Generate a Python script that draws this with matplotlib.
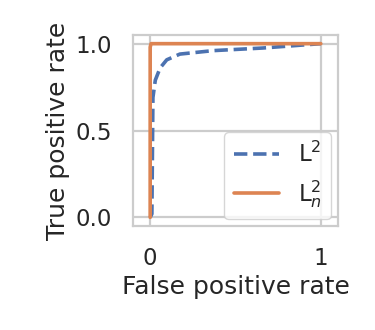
import numpy as np
import matplotlib
matplotlib.use("Agg")
import matplotlib.pyplot as plt
import seaborn as sns

# ROC curve points
fpr_l2 = [0.0, 0.01, 0.016, 0.03, 0.058, 0.097, 0.174, 0.37, 0.66, 1.0]
tpr_l2 = [0.0, 0.02, 0.69, 0.79, 0.86, 0.907, 0.94, 0.96, 0.975, 1.0]
fpr_l2n = [0.0, 0.0, 0.005, 1.0]
tpr_l2n = [0.0, 0.98, 1.0, 1.0]

sns.set_theme(style="whitegrid", font_scale=1.5,
              rc={"grid.linewidth": 1.6, "axes.linewidth": 1.6,
                  "xtick.major.pad": 9, "ytick.major.pad": 9})
plt.rcParams["font.family"] = ["DejaVu Sans"]

fig = plt.figure(figsize=(3.75, 3.3), dpi=100)
ax = fig.add_axes([0.355, 0.315, 0.546, 0.579])

ax.plot(fpr_l2, tpr_l2, "--", lw=2.6, label=r"L$^2$")
ax.plot(fpr_l2n, tpr_l2n, "-", lw=2.6, label=r"L$_n^2$")

ax.set_xlim(-0.1, 1.1)
ax.set_ylim(-0.05, 1.05)
ax.set_xticks([0, 1])
ax.set_xticklabels(["0", "1"])
ax.set_yticks([0.0, 0.5, 1.0])
ax.set_xlabel("False positive rate")
ax.set_ylabel("True positive rate")
ax.legend(loc="lower right", borderaxespad=0.3, handlelength=2.0)

fig.savefig("out.png", dpi=100)
